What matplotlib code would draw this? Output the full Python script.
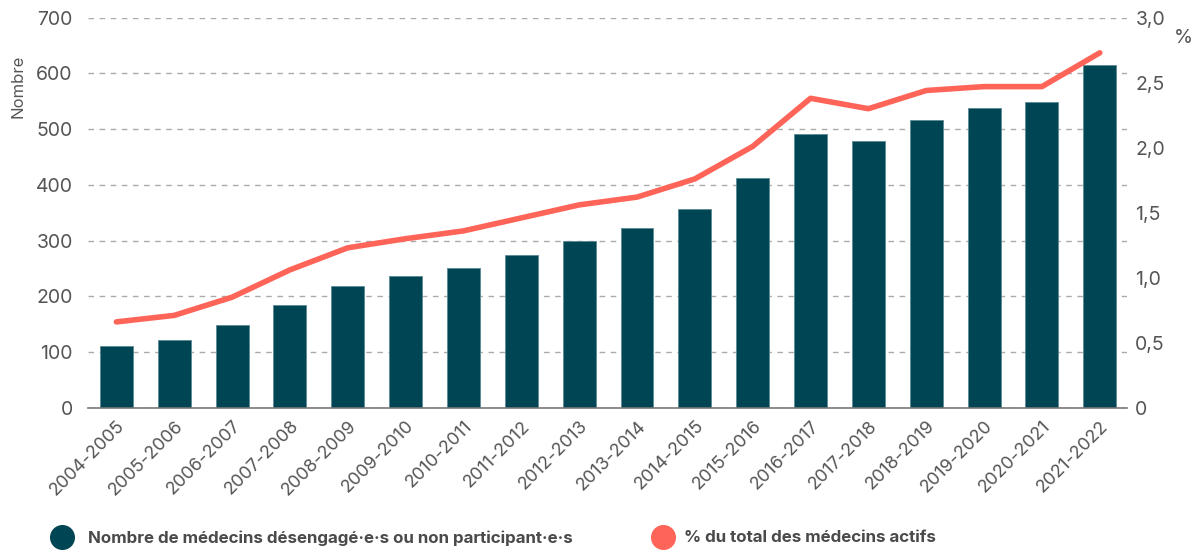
import matplotlib
matplotlib.use("Agg")
import matplotlib.pyplot as plt
from matplotlib.lines import Line2D
from matplotlib.ticker import FixedLocator

plt.rcParams['font.family'] = ['Inter', 'DejaVu Sans']

periods = ["2004-2005", "2005-2006", "2006-2007", "2007-2008", "2008-2009",
           "2009-2010", "2010-2011", "2011-2012", "2012-2013", "2013-2014",
           "2014-2015", "2015-2016", "2016-2017", "2017-2018", "2018-2019",
           "2019-2020", "2020-2021", "2021-2022"]
nombre = [111, 121, 148, 185, 219, 236, 251, 274, 300, 322, 356, 413,
          491, 479, 516, 538, 548, 615]
pct = [0.66, 0.71, 0.85, 1.06, 1.23, 1.30, 1.36, 1.46, 1.56, 1.62, 1.76, 2.01,
       2.38, 2.30, 2.44, 2.47, 2.47, 2.73]
left_ticks = [0, 100, 200, 300, 400, 500, 600, 700]
right_ticks = [0, 0.5, 1.0, 1.5, 2.0, 2.5, 3.0]
right_labels = ["0", "0,5", "1,0", "1,5", "2,0", "2,5", "3,0"]
legend_labels = ["Nombre de médecins désengagé·e·s ou non participant·e·s",
                 "% du total des médecins actifs"]

BAR = "#004554"
LINE = "#FF6459"
TXT = "#555555"

fig = plt.figure(figsize=(11.96, 5.5), dpi=100)
ax = fig.add_axes([88/1196, 1-407.7/550, (1127-88)/1196, (407.7-17.7)/550])
x = list(range(len(periods)))
ax.bar(x, nombre, width=0.57, color=BAR, zorder=2, edgecolor="#5c8a94", linewidth=0.6)
ax.set_xlim(-0.49, 17.47)
ax.set_ylim(0, 700)
ax.yaxis.set_major_locator(FixedLocator(left_ticks))
ax.grid(axis='y', color="#aaaaaa", linestyle=(0, (4, 4)), linewidth=1, zorder=0)
ax.set_axisbelow(True)
for s in ['top', 'right', 'left']:
    ax.spines[s].set_visible(False)
ax.spines['bottom'].set_color("#777777")
ax.spines['bottom'].set_linewidth(1.2)
ax.tick_params(axis='y', length=0, pad=11, labelsize=14, labelcolor=TXT)
ax.tick_params(axis='x', length=0, pad=7, labelsize=13, labelcolor=TXT)
ax.set_xticks(x)
ax.set_xticklabels(periods, rotation=45, ha='right', rotation_mode='anchor')

ax2 = ax.twinx()
ax2.plot(x, pct, color=LINE, linewidth=4, solid_capstyle='round', solid_joinstyle='round', zorder=3)
ax2.set_ylim(0, 3.0)
ax2.set_yticks(right_ticks)
ax2.set_yticklabels(right_labels)
ax2.tick_params(axis='y', length=0, pad=6, labelsize=14, labelcolor=TXT)
for s in ['top', 'right', 'left', 'bottom']:
    ax2.spines[s].set_visible(False)

fig.text(18/1196, 1-86/550, "Nombre", rotation=90, ha='center', va='center', fontsize=12, color=TXT)
fig.text(1183/1196, 1-38/550, "%", ha='center', va='center', fontsize=14, color=TXT)

# legend
fig.add_artist(Line2D([62/1196], [1-537/550], marker='o', markersize=17, color=BAR, linestyle='none',
                      transform=fig.transFigure))
fig.text(88/1196, 1-538/550, legend_labels[0], ha='left', va='center', fontsize=12.2,
         fontweight='bold', color="#4a4a4a")
fig.add_artist(Line2D([663/1196], [1-537/550], marker='o', markersize=17, color=LINE, linestyle='none',
                      transform=fig.transFigure))
fig.text(684/1196, 1-538/550, legend_labels[1], ha='left', va='center', fontsize=12.2,
         fontweight='bold', color="#4a4a4a")

fig.savefig("out.png", dpi=100)
